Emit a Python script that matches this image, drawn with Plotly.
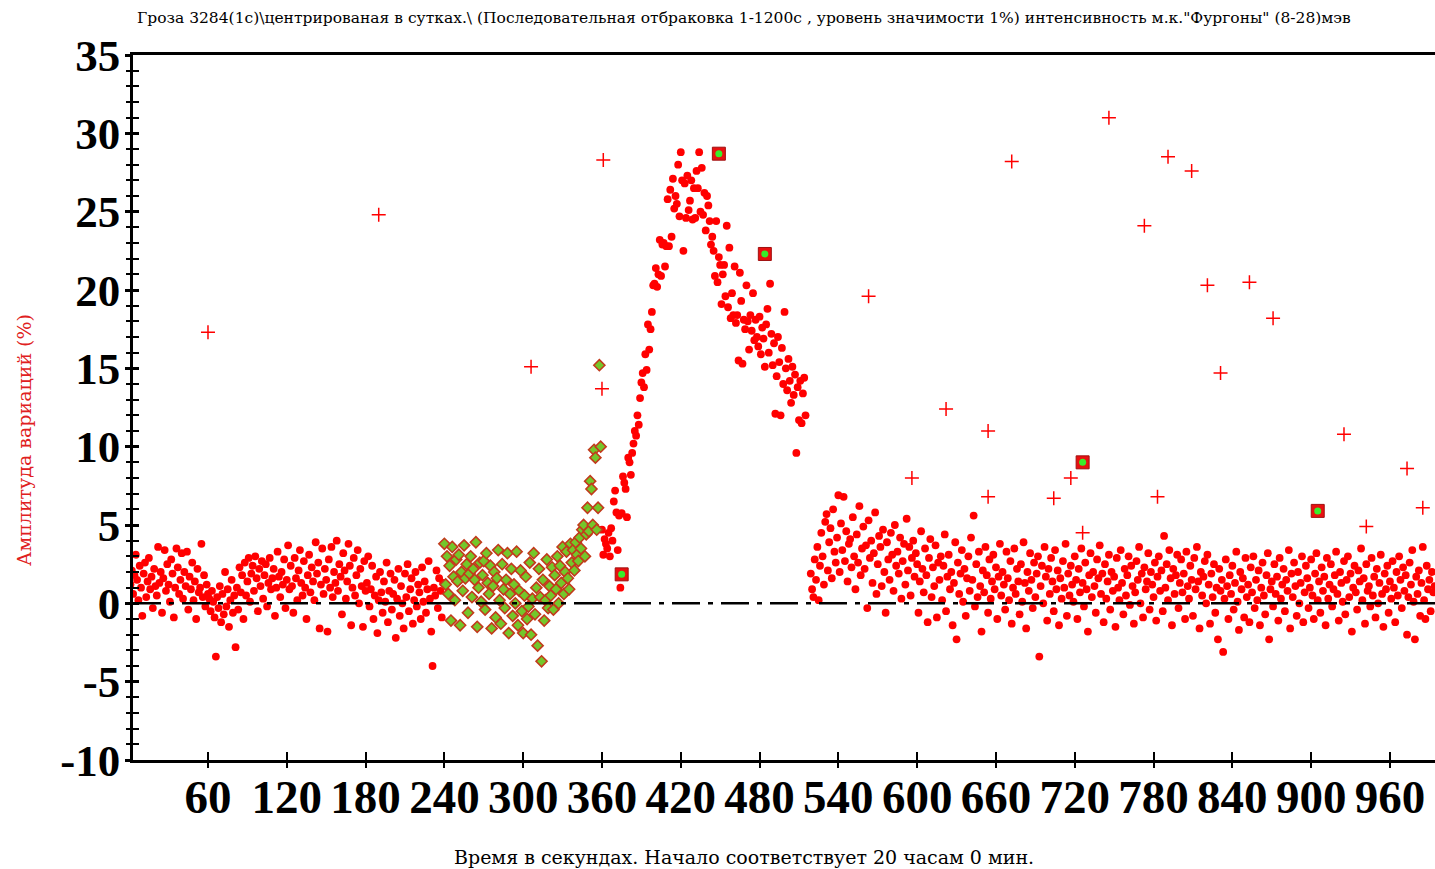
import numpy as np
import plotly.graph_objects as go

# ---- data: amplitude of variations (%) per second ----
start_a = 1
amp_a = [
    1.2, 2.1, 0.6, 1.8, 3.1, 1.5, 0.2, 2.4, 1.0, -0.8, 1.9, 2.6, 0.4, 1.4, 2.9, 0.9, 1.7, -0.3, 2.2, 1.1,
    0.5, 3.6, 1.3, 2.0, -0.6, 1.6, 3.4, 0.8, 2.5, 1.2, 0.1, 2.8, 1.9, -0.9, 1.0, 3.5, 2.3, 0.6, 1.5, 3.2,
    0.3, 2.0, 1.1, 3.3, -0.4, 1.7, 0.9, 2.6, 0.2, 1.4, -1.0, 2.2, 0.7, 1.0, 3.8, 0.4, 1.8, -0.2, 1.2, 0.6,
    0.3, -0.5, 0.8, 0.1, -0.9, -3.4, 0.4, -0.3, 1.1, -1.2, 0.6, -0.7, 2.0, -0.2, 0.9, -1.5, 0.2, 1.5, -0.6, 0.5,
    -2.8, 1.0, -0.4, 2.3, 0.7, 1.8, -1.0, 2.6, 0.5, 1.4, 2.9, 0.1, 1.9, 2.4, 0.8, 3.0, 1.6, -0.5, 2.2, 1.1,
    2.7, 0.3, 1.8, 2.5, -0.2, 1.3, 2.9, 0.9, 1.6, 2.2, -0.8, 1.0, 3.3, 1.7, 0.4, 2.0, 1.2, 2.8, -0.3, 1.5,
    3.7, 0.9, 2.4, 1.1, -0.6, 2.9, 1.6, 0.2, 2.1, 3.4, 1.3, 0.5, 2.7, 1.0, -1.0, 1.8, 3.1, 0.7, 2.3, 1.4,
    0.2, 3.9, 1.9, 2.6, -1.6, 1.2, 3.5, 0.6, 2.2, 1.5, -1.8, 2.8, 1.0, 3.6, 0.4, 2.0, 1.3, 4.0, 0.8, 2.5,
    1.7, -0.7, 3.2, 2.1, 0.3, 1.4, 3.8, 2.4, -1.4, 1.0, 2.9, 0.5, 1.8, 3.4, 0.0, 2.2, 1.1, -1.5, 2.7, 0.8,
    1.3, 3.0, -0.2, 0.9, 2.4, -1.0, 0.5, 1.7, -1.9, 0.2, 2.0, 0.7, -0.6, 1.4, 0.1, 2.6, -1.2, 0.8, 1.9, -0.4,
    0.6, 1.5, -2.2, 0.3, 2.2, -0.8, 1.1, 0.0, -1.6, 1.9, 0.4, 2.5, -0.5, 0.9, 1.6, -1.3, 0.2, 2.0, -0.2, 1.2,
    0.7, -1.0, 2.3, 0.1, 1.4, -0.6, 0.9, 2.7, 0.3, -1.8, -4.0, 1.0, 0.5, 2.1, -0.3, 1.6, 0.8, -0.9, 1.3,
]

# sequential rejection interval (diamonds)
start_d = 240
amp_d = [
    3.8, 1.2, 3.0, 0.6, 2.4, -1.1, 3.6, 1.7, 0.2, 2.8, 1.4, 3.1, -1.4, 2.0, 0.8, 3.7, 1.6, 2.5, -0.6, 1.9,
    3.0, 0.4, 2.2, 1.5, 3.9, -1.5, 1.0, 2.6, 0.1, 1.8, 2.7, -0.4, 3.2, 1.3, 0.6, 2.4, -1.6, 1.1, 2.0, -0.9,
    1.6, 3.4, 0.2, -1.3, 2.5, 0.9, -0.3, 1.5, 3.2, -1.9, 0.6, 2.2, -0.8, 1.2, 0.0, 3.3, -1.4, 0.8, 2.1, -0.5,
    -1.9, 0.5, 1.7, -1.0, -0.2, 2.6, -2.0, 0.3, 3.2, -0.7, 1.0, -2.7, 2.2, 0.4, -3.7, 1.5, -1.1, 0.2, 2.8, -0.3,
    1.1, 0.5, 2.3, -0.4, 1.8, 0.9, 3.0, 0.0, 2.4, 1.3, 3.6, 0.6, 2.0, 3.3, 1.6, 0.9, 3.8, 2.6, 3.4, 2.1,
    3.9, 3.1, 2.7, 4.2, 3.5, 4.7, 5.0, 3.0, 4.4, 6.1, 4.6, 7.8, 7.3, 5.0, 9.8, 9.3, 4.7, 6.1, 15.2, 10.0,
]

# burst
start_b = 360
amp_b = [
    4.7, 3.1, 4.1, 3.8, 3.5, 4.5, 3.0, 4.8, 4.0, 6.5, 7.2, 5.8, 3.4, 5.6, 1.0, 5.75, 8.1, 7.7, 7.3, 5.5,
    9.3, 9.0, 8.2, 9.6, 10.2, 11.0, 10.7, 12.0, 11.4, 13.1, 14.1, 14.7, 13.8, 15.9, 14.9, 17.8, 16.2, 17.5, 18.6, 20.3,
    20.4, 21.4, 20.2, 21.0, 23.2, 20.9, 22.9, 23.0, 21.5, 22.8, 25.8, 22.8, 26.4, 23.4, 27.1, 25.2, 26.0, 25.5, 28.0, 24.7,
    28.8, 27.0, 22.5, 26.8, 24.6, 27.3, 25.1, 25.7, 27.0, 24.5, 26.5, 24.6, 27.6, 26.5, 28.8, 25.0, 27.8, 24.8, 26.2, 23.8,
    26.0, 25.4, 24.4, 22.9, 23.4, 22.5, 20.9, 24.4, 20.5, 22.1, 21.6, 19.1, 21.0, 21.6, 19.6, 24.1, 18.9, 22.7, 18.2, 19.8,
    18.4, 21.5, 17.9, 18.4, 15.5, 21.1, 19.3, 15.3, 18.1, 17.5, 20.3, 18.0, 16.2, 18.4, 17.4, 19.8, 16.8, 18.1, 17.0, 16.4,
    18.3, 15.9, 17.6, 16.9, 15.1, 17.8, 18.8, 16.0, 20.4, 17.2, 15.2, 16.6, 12.1, 14.5, 17.0, 15.4, 12.0, 16.3, 14.0, 18.6,
    15.0, 13.6, 15.6, 14.2, 12.8, 15.1, 13.3, 14.6, 9.6, 13.8, 11.7, 14.2, 11.5, 13.4, 14.4, 12.0,
]

# after the burst
start_c = 519
amp_c = [
    1.9, 0.9, 0.4, 2.8, 1.5, 3.6, 0.2, 2.4, 4.5, 3.0, 1.2, 5.2, 5.7, 2.1, 3.9, 4.8, 1.6, 6.0, 3.3, 2.6,
    4.2, 6.9, 2.0, 5.1, 3.4, 6.8, 2.7, 4.6, 1.4, 3.8, 4.1, 2.3, 5.5, 3.0, 0.9, 4.4, 2.6, 6.2, 1.8, 3.5,
    4.9, 2.2, 3.7, -0.3, 5.3, 2.9, 4.0, 1.3, 3.2, 5.8, 0.6, 2.5, 4.3, 3.6, 1.1, 4.7, 2.0, -0.6, 3.9, 2.8,
    1.5, 4.5, 3.1, 0.8, 5.0, 2.4, 3.3, 1.9, 4.2, 0.3, 2.7, 3.8, 1.2, 5.4, 2.1, 3.6, 0.5, 2.9, 4.0, 1.7,
    3.2, 2.5, -0.6, 1.4, 4.6, 2.2, 0.7, 3.5, 1.8, -1.2, 2.9, 4.1, 0.4, 2.3, 1.1, 3.7, -0.9, 2.6, 1.5, 3.0,
    0.2, 2.4, 4.4, -0.5, 1.7, 3.1, 0.9, 2.0, -1.4, 1.3, 3.9, -2.3, 2.6, 0.6, 1.9, 3.4, 0.1, 2.2, -0.8, 1.6,
    3.0, 0.8, 4.2, 1.5, 5.6, -0.2, 2.5, 0.4, 3.3, 1.1, -1.8, 2.1, 0.7, 3.6, 1.8, -0.6, 2.8, 0.3, 1.4, 3.1,
    0.9, 2.3, -1.0, 1.7, 3.8, 0.5, 2.0, 1.2, -0.4, 3.3, 1.6, 0.2, 2.7, -1.3, 1.0, 3.5, 0.6, 2.2, 1.4, -0.7,
    2.5, 0.1, 3.9, 1.3, -1.6, 2.0, 0.8, 3.2, 1.5, -0.3, 2.6, 0.4, 1.9, 3.0, -3.4, 1.1, 2.4, 0.0, 3.6, 1.7,
    -1.1, 2.2, 0.6, 2.9, 1.4, -0.5, 3.4, 0.9, 2.1, -1.4, 1.6, 0.3, 2.7, 1.0, 3.8, -0.8, 1.9, 0.5, 2.4, 1.2,
    0.1, 3.0, 1.5, -1.0, 2.2, 0.7, 3.5, 1.3, -0.2, 2.6, 0.9, -1.8, 1.8, 3.2, 0.4, 2.0, 1.1, -0.6, 2.8, 1.6,
    3.7, 0.6, 1.9, -1.2, 2.5, 0.3, 1.4, 3.1, -0.4, 2.0, 0.8, 1.7, -1.5, 2.9, 1.0, 0.2, 3.4, 1.3, -0.7, 2.2,
    0.5, 1.8, 3.0, -0.1, 2.4, 1.1, -1.3, 0.7, 2.7, 1.5, 3.6, 0.0, 1.9, -0.9, 2.3, 0.9, 1.4, 3.2, -0.4, 2.0,
    1.2, 0.4, 2.6, -1.1, 1.7, 3.0, 0.8, 2.1, -0.5, 4.3, 1.0, 2.5, 0.2, 3.4, 1.6, -1.4, 2.2, 0.6, 1.8, 3.1,
    -0.3, 1.3, 2.8, 0.7, 1.9, -1.0, 3.3, 1.1, 0.3, 2.4, 1.5, -0.8, 2.9, 0.9, 3.6, 1.4, -1.6, 2.0, 0.5, 1.7,
    2.7, 0.0, 3.1, 1.2, -1.3, 1.9, 0.4, 2.5, -0.6, 1.0, -2.3, 2.2, 0.8, 1.5, -3.1, 0.3, 2.8, 1.1, -1.0, 1.8,
    0.6, 2.4, -0.4, 1.3, 3.3, 0.1, -1.7, 2.0, 0.9, 1.6, -0.9, 2.9, 0.4, 1.2, -1.2, 2.3, 0.7, 3.0, -0.3, 1.5,
    0.2, 2.1, -1.4, 1.0, 2.6, 0.5, -0.7, 1.8, 3.2, -2.3, 0.9, 1.4, -0.2, 2.5, 0.6, 1.7, -1.1, 2.9, 0.3, 1.2,
    2.2, -0.5, 1.5, 0.8, 3.4, -1.6, 1.9, 0.4, 2.6, 1.1, -0.8, 2.0, 0.0, 1.3, 3.0, -1.2, 0.7, 2.4, 1.6, -0.3,
    1.0, 2.8, 0.5, -1.0, 1.9, 3.2, 0.2, 1.4, -0.6, 2.3, 0.8, 1.7, -1.4, 2.9, 0.3, 1.2, 2.5, -0.2, 0.9, 1.8,
    3.3, 0.6, -1.1, 2.0, 1.3, 0.1, 2.7, -0.7, 1.5, 3.0, 0.4, 1.9, -1.8, 1.0, 2.4, 0.7, -0.4, 2.1, 1.4, 3.5,
    0.2, 1.6, -1.3, 2.5, 0.8, 1.1, -0.2, 2.9, 0.5, 1.7, -0.9, 2.2, 0.0, 1.3, 3.1, 0.6, -1.5, 1.9, 0.9, 2.4,
    -0.6, 1.4, 0.3, 2.7, 1.0, -1.2, 2.0, 0.5, 3.0, 1.5, -0.3, 2.3, 0.8, 1.8, -2.0, 0.4, 2.6, 1.2, 3.4, 0.1,
    -2.3, 1.7, 0.6, 2.1, -0.8, 1.3, 3.6, 0.2, -1.0, 2.4, 0.9, 1.5, -0.5, 2.0, 0.7, 1.1,
]

# rejected outliers (+)
out_t = [60, 190, 306, 361, 360, 563, 622, 596, 654, 654, 672, 704, 717, 726, 746, 773, 783, 791,
         809, 821, 831, 853, 871, 925, 942, 973, 985]
out_v = [17.3, 24.8, 15.1, 28.3, 13.7, 19.6, 12.4, 8.0, 11.0, 6.8, 28.2, 6.7, 8.0, 4.5, 31.0, 24.1,
         6.8, 28.5, 27.6, 20.3, 14.7, 20.5, 18.2, 10.8, 4.9, 8.6, 6.1]

# marked points (squares)
mark_t = [375, 449, 484, 726, 905]
mark_v = [1.85, 28.7, 22.3, 9.0, 5.9]

x_ticks = [60, 120, 180, 240, 300, 360, 420, 480, 540, 600, 660, 720, 780, 840, 900, 960]
y_ticks = [-10, -5, 0, 5, 10, 15, 20, 25, 30, 35]

title_text = ('Гроза 3284(1с)\\центрированая в сутках.\\ (Последовательная отбраковка 1-1200с , '
              'уровень значимости 1%) интенсивность м.к."Фургоны" (8-28)мэв')
x_title = 'Время в секундах. Начало соответствует 20 часам 0 мин.'
y_title = 'Амплитуда вариаций (%)'

SERIF = 'Liberation Serif, Times New Roman, serif'
TEXT_SERIF = 'DejaVu Serif, serif'
RED = '#ff0000'


def seconds(start, values):
    return np.arange(start, start + len(values))


fig = go.Figure()

dots = dict(mode='markers', marker=dict(color=RED, size=7.8), hoverinfo='x+y', showlegend=False)
for s, v in ((start_a, amp_a), (start_b, amp_b), (start_c, amp_c)):
    fig.add_trace(go.Scatter(x=seconds(s, v), y=v, **dots))

fig.add_trace(go.Scatter(
    x=seconds(start_d, amp_d), y=amp_d, mode='markers', showlegend=False,
    marker=dict(symbol='diamond', size=8.5, color='#74c72a',
                line=dict(color='#c23a1c', width=1.6))))

fig.add_trace(go.Scatter(
    x=out_t, y=out_v, mode='markers', showlegend=False,
    marker=dict(symbol='cross-thin', size=10, color=RED, line=dict(color=RED, width=1.5))))

fig.add_trace(go.Scatter(
    x=mark_t, y=mark_v, mode='markers', showlegend=False,
    marker=dict(symbol='square', size=13, color='#e81010', line=dict(color='#a01010', width=1))))
fig.add_trace(go.Scatter(
    x=mark_t, y=mark_v, mode='markers', showlegend=False,
    marker=dict(symbol='circle', size=7, color='#39ee2a')))

# companion axes carrying the outward half of the crossing ticks
fig.add_trace(go.Scatter(x=[], y=[], xaxis='x2', yaxis='y2', showlegend=False, hoverinfo='skip'))

fig.add_hline(y=0, line=dict(color='black', width=2.5, dash='28px,8px,5px,8px'), layer='above')

x_range = [2.9, 994.3]
y_range = [-10, 35]

fig.update_layout(
    width=1435, height=869,
    margin=dict(l=133, r=0, t=55, b=109),
    paper_bgcolor='white', plot_bgcolor='white',
    xaxis=dict(range=x_range, tickvals=x_ticks, ticktext=[str(t) for t in x_ticks],
               showgrid=False, zeroline=False, showline=True, linecolor='black', linewidth=2.5,
               mirror=True, ticks='inside', ticklen=8, tickwidth=2, tickcolor='black',
               ticklabelstandoff=-6,
               tickfont=dict(family=SERIF, size=47, color='black', weight='bold')),
    yaxis=dict(range=y_range, tickvals=y_ticks, ticktext=[str(t) for t in y_ticks],
               showgrid=False, zeroline=False, showline=True, linecolor='black', linewidth=2.5,
               ticks='inside', ticklen=6, tickwidth=2.5, tickcolor='black',
               minor=dict(dtick=1, ticks='inside', ticklen=6, tickwidth=2, tickcolor='black'),
               ticklabelstandoff=1,
               tickfont=dict(family=SERIF, size=45, color='black', weight='bold')),
    xaxis2=dict(range=x_range, overlaying='x', anchor='y2', tickvals=x_ticks,
                showticklabels=False, showgrid=False, zeroline=False, showline=False,
                ticks='outside', ticklen=7, tickwidth=2, tickcolor='black'),
    yaxis2=dict(range=y_range, overlaying='y', anchor='x2', side='left', tickvals=y_ticks,
                showticklabels=False, showgrid=False, zeroline=False, showline=False,
                ticks='outside', ticklen=7, tickwidth=2.5, tickcolor='black',
                minor=dict(dtick=1, ticks='outside', ticklen=6, tickwidth=2, tickcolor='black')),
    annotations=[
        dict(text=title_text, xref='paper', yref='paper', x=(744 - 133) / 1302, y=1 + (55 - 18) / 705,
             xanchor='center', yanchor='middle', showarrow=False,
             font=dict(family=TEXT_SERIF, size=15.5, color='black')),
        dict(text=x_title, xref='paper', yref='paper', x=(744 - 133) / 1302, y=-(857 - 760) / 705,
             xanchor='center', yanchor='middle', showarrow=False,
             font=dict(family=TEXT_SERIF, size=19, color='black')),
        dict(text=y_title, xref='paper', yref='paper', x=-(133 - 24) / 1302, y=(760 - 440) / 705,
             xanchor='center', yanchor='middle', showarrow=False, textangle=-90,
             font=dict(family=TEXT_SERIF, size=19, color='#e02020')),
    ],
)

fig.write_html('out.html')
